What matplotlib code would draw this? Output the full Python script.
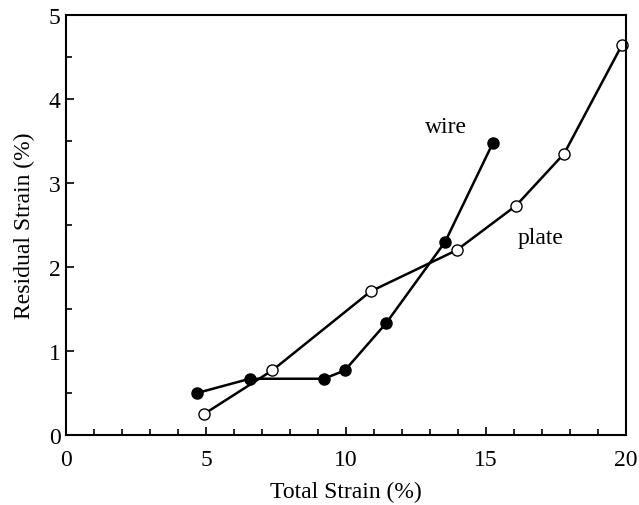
import numpy as np
import matplotlib.pyplot as plt
from matplotlib.ticker import MultipleLocator

plt.rcParams['font.family'] = ['Liberation Serif', 'DejaVu Serif']

# residual vs total strain, both in %
wire_total = [4.68, 6.57, 9.22, 9.96, 11.43, 13.54, 15.25]
wire_resid = [0.50, 0.67, 0.67, 0.77, 1.33, 2.30, 3.48]
plate_total = [4.93, 7.37, 10.88, 13.95, 16.07, 17.79, 19.85]
plate_resid = [0.25, 0.77, 1.71, 2.20, 2.73, 3.35, 4.64]

fig = plt.figure(figsize=(6.39, 5.06), dpi=100)
ax = fig.add_axes([0.1033, 0.1383, 0.8764, 0.8301])

ax.plot(wire_total, wire_resid, '-o', color='black', lw=1.8,
        ms=8, mfc='black', mec='black', clip_on=False)
ax.plot(plate_total, plate_resid, '-o', color='black', lw=1.8,
        ms=8, mfc='white', mec='black', mew=1.0, clip_on=False)

ax.text(13.57, 3.55, 'wire', fontsize=17, ha='center', va='bottom')
ax.text(16.93, 2.23, 'plate', fontsize=17, ha='center', va='bottom')

ax.set_xlim(0, 20)
ax.set_ylim(0, 5)
ax.xaxis.set_major_locator(MultipleLocator(5))
ax.xaxis.set_minor_locator(MultipleLocator(1))
ax.yaxis.set_major_locator(MultipleLocator(1))
ax.yaxis.set_minor_locator(MultipleLocator(0.5))
ax.tick_params(which='both', direction='in', top=False, right=False,
               labelsize=17, width=1.2)
ax.tick_params(which='major', length=6, pad=10)
ax.tick_params(which='minor', length=4)
ax.tick_params(axis='y', which='major', pad=4)
for s in ax.spines.values():
    s.set_linewidth(1.5)

ax.set_xlabel('Total Strain (%)', fontsize=17, labelpad=8)
ax.set_ylabel('Residual Strain (%)', fontsize=17, labelpad=10)

fig.savefig('out.png', dpi=100)
